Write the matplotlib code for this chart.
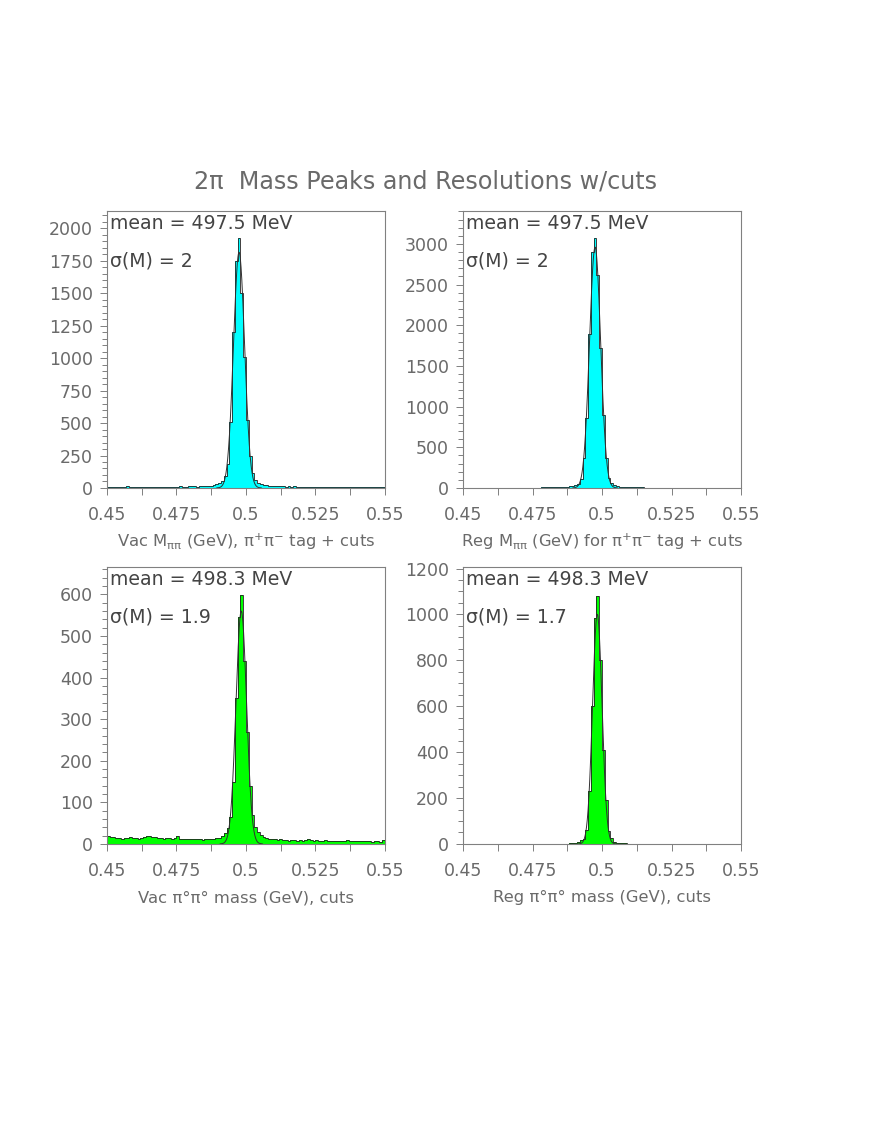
import numpy as np
import matplotlib
matplotlib.use("Agg")
import matplotlib.pyplot as plt
from matplotlib.ticker import MultipleLocator, FuncFormatter

plt.rcParams["font.family"] = ["DejaVu Sans"]
plt.rcParams["mathtext.fontset"] = "dejavusans"

# 100 bins of 1 MeV from 0.45 to 0.55 GeV
EDGES = np.linspace(0.45, 0.55, 101)

# bin contents, one row = 10 bins
vac_pipi = [
    8, 10, 9, 7, 11, 9, 8, 12, 10, 9,
    8, 11, 7, 9, 10, 8, 9, 7, 10, 8,
    9, 8, 10, 9, 11, 10, 12, 9, 11, 13,
    12, 14, 11, 13, 15, 14, 17, 19, 22, 28,
    38, 55, 95, 185, 510, 1200, 1750, 1925, 1500, 1010,
    520, 250, 115, 62, 42, 30, 25, 21, 18, 16,
    15, 13, 14, 12, 11, 13, 10, 12, 11, 9,
    10, 11, 9, 10, 8, 9, 11, 8, 9, 10,
    8, 9, 7, 10, 8, 9, 8, 7, 9, 8,
    7, 8, 9, 7, 8, 6, 8, 7, 6, 7,
]
reg_pipi = [
    2, 3, 2, 2, 3, 2, 3, 2, 2, 3,
    3, 2, 3, 3, 2, 3, 3, 4, 3, 3,
    4, 3, 4, 4, 5, 4, 5, 5, 6, 6,
    7, 8, 8, 9, 10, 12, 14, 18, 24, 30,
    38, 50, 110, 370, 860, 1890, 2900, 3070, 2620, 1720,
    900, 370, 125, 55, 35, 25, 18, 14, 12, 10,
    8, 7, 7, 6, 6, 5, 5, 4, 5, 4,
    4, 4, 3, 4, 3, 3, 3, 3, 2, 3,
    2, 3, 2, 2, 3, 2, 2, 2, 3, 2,
    2, 2, 2, 1, 2, 2, 1, 2, 2, 2,
]
vac_pi0 = [
    18, 16, 17, 14, 15, 13, 15, 14, 16, 14,
    15, 13, 15, 17, 19, 20, 16, 17, 14, 15,
    13, 14, 15, 13, 14, 18, 12, 13, 11, 12,
    11, 13, 12, 11, 10, 12, 11, 13, 12, 14,
    15, 18, 26, 38, 65, 150, 350, 545, 598, 440,
    270, 140, 70, 40, 28, 22, 16, 14, 13, 11,
    12, 10, 11, 9, 10, 8, 9, 10, 8, 9,
    8, 9, 13, 9, 8, 10, 8, 7, 9, 8,
    7, 6, 8, 7, 8, 7, 9, 8, 7, 6,
    8, 7, 8, 6, 7, 5, 6, 8, 5, 10,
]
reg_pi0 = [
    0, 1, 0, 0, 2, 0, 1, 0, 0, 1,
    0, 0, 1, 0, 0, 1, 0, 0, 2, 0,
    0, 1, 0, 0, 1, 0, 0, 1, 0, 1,
    1, 0, 1, 1, 2, 1, 2, 2, 3, 4,
    5, 10, 17, 20, 60, 230, 600, 985, 1082, 800,
    410, 190, 58, 25, 10, 6, 4, 3, 3, 2,
    2, 1, 1, 2, 1, 1, 0, 1, 1, 0,
    1, 0, 1, 0, 0, 1, 0, 0, 1, 0,
    0, 1, 0, 0, 1, 0, 0, 0, 1, 0,
    0, 0, 1, 0, 0, 2, 0, 0, 1, 0,
]

# gaussian fit parameters (amplitude per bin, mean GeV, sigma GeV)
fit_amp = [1815, 2960, 560, 1000]
fit_mean = [0.4975, 0.4975, 0.4983, 0.4983]
fit_sigma = [0.0020, 0.0020, 0.0019, 0.0017]

mean_txt = ["497.5", "497.5", "498.3", "498.3"]
sigma_txt = ["2", "2", "1.9", "1.7"]
xlabels = [
    r"Vac M$_{\mathrm{ππ}}$ (GeV), π$^{+}$π$^{-}$ tag + cuts",
    r"Reg M$_{\mathrm{ππ}}$ (GeV) for π$^{+}$π$^{-}$ tag + cuts",
    "Vac π°π° mass (GeV), cuts",
    "Reg π°π° mass (GeV), cuts",
]
ymax = [2130, 3400, 665, 1205]
ymajor = [250, 500, 100, 200]
yminor = [50, 100, 20, 50]
colors = ["#00ffff", "#00ffff", "#00ff00", "#00ff00"]
hists = [vac_pipi, reg_pipi, vac_pi0, reg_pi0]

TXT = "#6a6a6a"
FRAME = "#808080"

fig = plt.figure(figsize=(8.72, 11.28), dpi=100)
positions = [(0.1227, 0.5674), (0.531, 0.5674), (0.1227, 0.2518), (0.531, 0.2518)]

for i, (x0, y0) in enumerate(positions):
    ax = fig.add_axes([x0, y0, 0.3188, 0.2452])
    vals = np.asarray(hists[i], dtype=float)
    ax.stairs(vals, EDGES, fill=True, color=colors[i], lw=0)
    ax.stairs(vals, EDGES, color="#202020", lw=0.6)

    # fit curve
    xf = np.linspace(fit_mean[i] - 4 * fit_sigma[i], fit_mean[i] + 4 * fit_sigma[i], 300)
    yf = fit_amp[i] * np.exp(-0.5 * ((xf - fit_mean[i]) / fit_sigma[i]) ** 2)
    ax.plot(xf, yf, color="#303030", lw=0.7)

    ax.set_xlim(0.45, 0.55)
    ax.set_ylim(0, ymax[i])
    ax.xaxis.set_major_locator(MultipleLocator(0.025))
    ax.xaxis.set_minor_locator(MultipleLocator(0.0125))
    ax.xaxis.set_major_formatter(FuncFormatter(lambda v, p: f"{v:g}"))
    ax.yaxis.set_major_locator(MultipleLocator(ymajor[i]))
    ax.yaxis.set_minor_locator(MultipleLocator(yminor[i]))

    ax.tick_params(which="both", direction="out", color=FRAME, width=0.7)
    ax.tick_params(which="major", length=5, labelsize=12.5, labelcolor=TXT)
    ax.tick_params(which="minor", length=3.5)
    ax.tick_params(axis="x", which="major", pad=8)
    ax.tick_params(axis="x", which="minor", length=5)
    ax.tick_params(axis="y", which="major", pad=5)
    for sp in ax.spines.values():
        sp.set_color(FRAME)
        sp.set_linewidth(0.8)

    ax.text(0.01, 0.957, f"mean = {mean_txt[i]} MeV", transform=ax.transAxes,
            fontsize=13.6, color="#444444", va="center", ha="left")
    ax.text(0.01, 0.82, f"σ(M) = {sigma_txt[i]}", transform=ax.transAxes,
            fontsize=13.6, color="#444444", va="center", ha="left")
    ax.text(0.5, -0.195, xlabels[i], transform=ax.transAxes,
            fontsize=11.8, color=TXT, va="center", ha="center")

fig.text(0.4874, 0.8387, "2π  Mass Peaks and Resolutions w/cuts",
         fontsize=17.2, color=TXT, ha="center", va="center")

plt.savefig("out.png", dpi=100)
